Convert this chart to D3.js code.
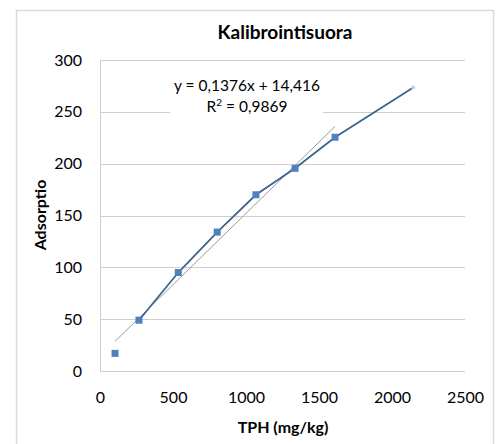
<!DOCTYPE html>
<html>
<head>
<meta charset="utf-8">
<script src="https://cdn.jsdelivr.net/npm/d3@7"></script>
<style>
  body { margin: 0; background: #fff; }
  text { font-family: Lato, "Open Sans", sans-serif; fill: #000; }
</style>
</head>
<body>
<div id="chart-area"></div>
<script>
// measured points (with trendline)
var tph = [103, 267, 536, 803, 1068, 1336, 1610];
var adsorptio = [17, 49, 95, 134, 170, 195.5, 225.5];

// connecting line series
var lineTph = [267, 536, 803, 1068, 1336, 1610, 2146];
var lineAds = [49, 95, 134, 170, 195.5, 225.5, 273.5];

var xTicks = [0, 500, 1000, 1500, 2000, 2500];
var yTicks = [0, 50, 100, 150, 200, 250, 300];

var slope = 0.1376, intercept = 14.416;
var eqText = "y = 0,1376x + 14,416";
var r2Text = "0,9869";

var width = 500, height = 444;

var svg = d3.select("#chart-area").append("svg")
    .attr("width", width)
    .attr("height", height);

// chart border
svg.append("rect")
    .attr("x", 16.5).attr("y", 10.5)
    .attr("width", 477).attr("height", 440)
    .attr("fill", "white")
    .attr("stroke", "#d9d9d9")
    .attr("stroke-width", 1.5);

var x = d3.scaleLinear().domain([0, 2500]).range([100, 465]);
var y = d3.scaleLinear().domain([0, 300]).range([371, 60]);

// gridlines
svg.append("g").selectAll("line")
    .data(yTicks)
    .enter().append("line")
        .attr("x1", x(0)).attr("x2", x(2500))
        .attr("y1", function(d){ return Math.round(y(d)) + 0.5; })
        .attr("y2", function(d){ return Math.round(y(d)) + 0.5; })
        .attr("stroke", "#cfcfcf")
        .attr("stroke-width", 1);

// left axis line
svg.append("line")
    .attr("x1", x(0) + 0.5).attr("x2", x(0) + 0.5)
    .attr("y1", y(300)).attr("y2", y(0))
    .attr("stroke", "#cfcfcf");

// tick labels
var yAxis = d3.axisLeft(y).tickValues(yTicks).tickSize(0).tickPadding(18);
var gy = svg.append("g").attr("transform", "translate(" + x(0) + ",0)").call(yAxis);
gy.select(".domain").remove();
gy.selectAll("text").style("font-size", "16px").attr("fill", "#222");

var xAxis = d3.axisBottom(x).tickValues(xTicks).tickFormat(d3.format("d")).tickSize(0).tickPadding(21);
var gx = svg.append("g").attr("transform", "translate(0," + y(0) + ")").call(xAxis);
gx.select(".domain").remove();
gx.selectAll("text").style("font-size", "16px").attr("fill", "#222");

// trendline
var xMin = d3.min(tph), xMax = d3.max(tph);
svg.append("line")
    .attr("x1", x(xMin)).attr("y1", y(slope * xMin + intercept))
    .attr("x2", x(xMax)).attr("y2", y(slope * xMax + intercept))
    .attr("stroke", "#9a9a9a")
    .attr("stroke-width", 1);

// series line
var linePts = lineTph.map(function(d, i){ return [d, lineAds[i]]; });
var line = d3.line()
    .x(function(d){ return x(d[0]); })
    .y(function(d){ return y(d[1]); });
svg.append("path")
    .datum(linePts)
    .attr("d", line)
    .attr("fill", "none")
    .attr("stroke", "#3d6494")
    .attr("stroke-width", 1.8);

// end marker
svg.append("circle")
    .attr("cx", x(lineTph[lineTph.length - 1]))
    .attr("cy", y(lineAds[lineAds.length - 1]))
    .attr("r", 2)
    .attr("fill", "#c7d3e3");

// square markers
svg.selectAll("rect.marker")
    .data(tph)
    .enter().append("rect")
        .attr("class", "marker")
        .attr("x", function(d){ return x(d) - 3.5; })
        .attr("y", function(d, i){ return y(adsorptio[i]) - 3.5; })
        .attr("width", 7).attr("height", 7)
        .attr("fill", "#4f81bd");

// equation label with white box
svg.append("rect")
    .attr("x", 170).attr("y", 75)
    .attr("width", 153).attr("height", 44)
    .attr("fill", "white");
svg.append("text")
    .attr("x", 247).attr("y", 91)
    .attr("text-anchor", "middle")
    .style("font-size", "15.5px")
    .attr("fill", "#222")
    .text(eqText);
var r2 = svg.append("text")
    .attr("x", 247).attr("y", 112)
    .attr("text-anchor", "middle")
    .style("font-size", "15.5px")
    .attr("fill", "#222");
r2.append("tspan").text("R");
r2.append("tspan").attr("dy", -6).style("font-size", "10px").text("2");
r2.append("tspan").attr("dy", 6).text(" = " + r2Text);

// title
svg.append("text")
    .attr("x", 285).attr("y", 39)
    .attr("text-anchor", "middle")
    .style("font-size", "19px")
    .style("font-weight", "bold")
    .text("Kalibrointisuora");

// axis titles
svg.append("text")
    .attr("x", 283).attr("y", 433)
    .attr("text-anchor", "middle")
    .style("font-size", "16px")
    .style("font-weight", "bold")
    .text("TPH (mg/kg)");

svg.append("text")
    .attr("transform", "translate(46,215) rotate(-90)")
    .attr("text-anchor", "middle")
    .style("font-size", "16px")
    .style("font-weight", "bold")
    .text("Adsorptio");
</script>
</body>
</html>
